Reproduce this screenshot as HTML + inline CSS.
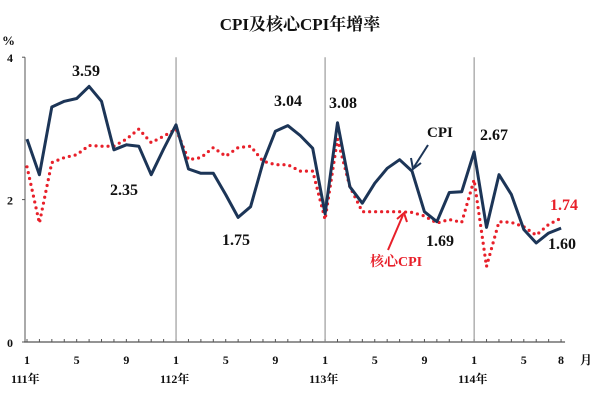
<!DOCTYPE html>
<html><head><meta charset="utf-8"><style>
body{margin:0;background:#fff;}
svg text{font-family:"Liberation Serif","Noto Serif CJK SC",serif;font-weight:bold;}
</style></head><body>
<svg width="600" height="400" viewBox="0 0 600 400" id="chart">
<text x="300" y="30" text-anchor="middle" font-size="17" fill="#111">CPI及核心CPI年增率</text>
<text x="2" y="45" font-size="13" fill="#111">%</text>
<g id="axes"></g>
<g id="series"></g>
<text x="72" y="76" font-size="16" fill="#111">3.59</text>
<text x="110" y="195" font-size="16" fill="#111">2.35</text>
<text x="222" y="245" font-size="16" fill="#111">1.75</text>
<text x="274" y="106" font-size="16" fill="#111">3.04</text>
<text x="329" y="108" font-size="16" fill="#111">3.08</text>
<text x="426" y="246" font-size="16" fill="#111">1.69</text>
<text x="480" y="140" font-size="16" fill="#111">2.67</text>
<text x="548" y="249" font-size="16" fill="#111">1.60</text>
<text x="550" y="210" font-size="16" fill="#e8202a">1.74</text>
<text x="427" y="137" font-size="15" fill="#111">CPI</text>
<line x1="428" y1="145" x2="414" y2="167" stroke="#1c3557" stroke-width="2"/>
<path d="M411 158 L413 169 L421 163" fill="none" stroke="#1c3557" stroke-width="2"/>
<text x="370" y="266" font-size="14" fill="#e8202a">核心CPI</text>
<line x1="388" y1="250" x2="403" y2="215" stroke="#e8202a" stroke-width="2"/>
<path d="M397 219 L404 213 L407 222" fill="none" stroke="#e8202a" stroke-width="2"/>
<text x="385" y="243" font-size="1" fill="#fff"></text>
</svg>
<script>
const yTicks=[0,2,4];
const monthTicks=["1","5","9","1","5","9","1","5","9","1","5","8"];
const monthTickIdx=[0,4,8,12,16,20,24,28,32,36,40,43];
const yearLabels=["111年","112年","113年","114年"];
const cpi=[2.85,2.35,3.30,3.38,3.42,3.59,3.38,2.70,2.77,2.75,2.35,2.71,
3.05,2.43,2.37,2.37,2.07,1.75,1.90,2.52,2.96,3.04,2.90,2.72,
1.80,3.08,2.18,1.95,2.23,2.44,2.56,2.40,1.83,1.69,2.10,2.11,
2.67,1.61,2.35,2.07,1.58,1.39,1.53,1.60];
const core=[2.46,1.67,2.52,2.59,2.63,2.76,2.75,2.75,2.85,2.99,2.80,2.89,
2.99,2.56,2.59,2.73,2.61,2.73,2.75,2.54,2.49,2.49,2.40,2.40,
1.72,2.85,2.18,1.83,1.83,1.83,1.83,1.82,1.77,1.67,1.72,1.68,
2.28,1.06,1.69,1.68,1.62,1.50,1.65,1.74];
const NS="http://www.w3.org/2000/svg";
const x0=27,dx=12.42,y0=342,ky=71.2;
const X=i=>x0+i*dx, Y=v=>y0-v*ky;
function mk(tag,attrs,parent){const e=document.createElementNS(NS,tag);for(const k in attrs)e.setAttribute(k,attrs[k]);parent.appendChild(e);return e;}
const ax=document.getElementById('axes'),se=document.getElementById('series');
let l=mk('line',{x1:25,y1:Y(4),x2:25,y2:y0,stroke:'#555','stroke-width':1},ax);


l=mk('line',{x1:24,y1:y0,x2:X(43)+4,y2:y0,stroke:'#555','stroke-width':1.2},ax);


yTicks.forEach(v=>{mk('line',{x1:22,y1:Y(v),x2:25,y2:Y(v),stroke:'#555'},ax);
 const t=mk('text',{x:10,y:Y(v)+5,'font-size':12,'text-anchor':'middle',fill:'#111'},ax);t.textContent=v;
 
 });
for(let i=0;i<=43;i++){mk('line',{x1:X(i),y1:y0,x2:X(i),y2:y0-3,stroke:'#555'},ax);}
for(let y=1;y<4;y++){const g=mk('line',{x1:X(12*y),y1:Y(4),x2:X(12*y),y2:y0,stroke:'#888','stroke-width':1},ax);
 
 }
monthTicks.forEach((m,j)=>{const t=mk('text',{x:X(monthTickIdx[j]),y:364,'font-size':12,'text-anchor':'middle',fill:'#111'},ax);t.textContent=m;
 
 });
let t=mk('text',{x:580,y:364,'font-size':12,fill:'#111'},ax);t.textContent='月';


yearLabels.forEach((yl,j)=>{const t=mk('text',{x:X(12*j)-16,y:383,'font-size':12,fill:'#111'},ax);t.textContent=yl;
 
 });
const pts=a=>a.map((v,i)=>X(i).toFixed(1)+','+Y(v).toFixed(1)).join(' ');
let p=mk('polyline',{points:pts(core),fill:'none',stroke:'#e8202a','stroke-width':3.2,'stroke-dasharray':'0 6','stroke-linecap':'round'},se);


p=mk('polyline',{points:pts(cpi),fill:'none',stroke:'#1c3557','stroke-width':3,'stroke-linejoin':'round'},se);


</script>
</body></html>
